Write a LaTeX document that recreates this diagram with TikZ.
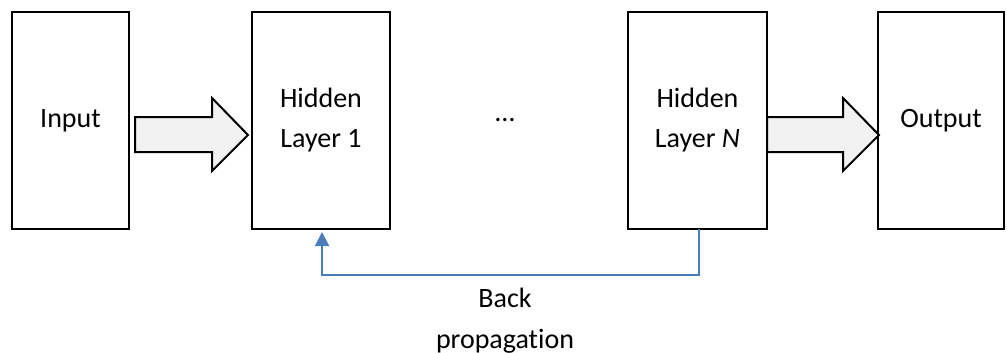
\documentclass[tikz,border=0pt]{standalone}
\usepackage{fontspec}
\setmainfont{Carlito}[Ligatures=NoCommon]
\usetikzlibrary{arrows.meta,calc}
\definecolor{bpblue}{RGB}{74,126,187}
\definecolor{arrowfill}{RGB}{242,242,242}
\begin{document}
\begin{tikzpicture}[x=1pt,y=-1pt,
  box/.style={draw=black,line width=2pt,outer sep=0pt,minimum height=217pt,align=center,
    font=\fontsize{28}{40}\selectfont},
  lbl/.style={font=\fontsize{28}{40}\selectfont},
  blockarrow/.style={draw=black,line width=2pt,fill=arrowfill,line join=miter},
  backline/.style={draw=bpblue,line width=2pt,-{Triangle[length=14pt,width=14pt]}}]
\useasboundingbox (0,0) rectangle (1007,353);
\node[box,minimum width=117pt] (in) at (70.5,120.5) {Input};
\node[box,minimum width=138pt] (h1) at (321,120.5) {Hidden\\Layer 1};
\node[box,minimum width=139pt] (hN) at (697.5,120.5) {Hidden\\Layer \textit{N}};
\node[box,minimum width=126pt] (out) at (941,120.5) {Output};
\node[lbl] (dots) at (505,120) {…};
\draw[blockarrow] ($(in.east)+(6,-3.5)$) -- ++(77,0) -- ++(0,-19) -- ++(36,37) -- ++(-36,36) -- ++(0,-19) -- ++(-77,0) -- cycle;
\draw[blockarrow] ($(hN.east)+(0,-3.5)$) -- ++(76,0) -- ++(0,-19) -- ++(36,37) -- ++(-36,36) -- ++(0,-19) -- ++(-76,0) -- cycle;
\draw[backline,shorten >=3pt] ($(hN.south)+(1.5,0)$) -- ++(0,46) -| ($(h1.south)+(1,0)$);
\node[lbl,anchor=base] (bp1) at (505,307) {Back};
\node[lbl,anchor=base] (bp2) at (505,348) {propagation};
\end{tikzpicture}
\end{document}
